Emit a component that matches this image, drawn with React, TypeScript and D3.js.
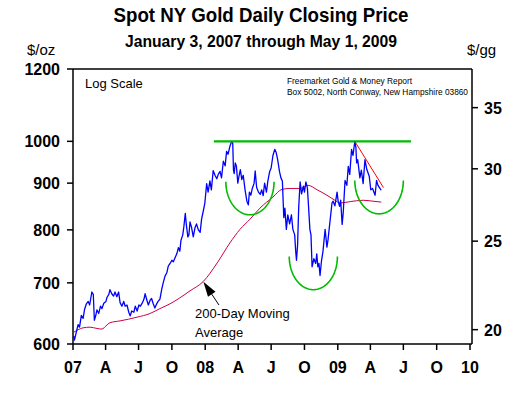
import React from "react";
import * as d3 from "d3";

// spot gold, NY close ($/oz)
const goldDates = [
  "2007-01-03","2007-01-05","2007-01-10","2007-01-15","2007-01-19","2007-01-24","2007-01-29","2007-02-02",
  "2007-02-07","2007-02-12","2007-02-16","2007-02-22","2007-02-26","2007-03-01","2007-03-05","2007-03-08",
  "2007-03-13","2007-03-18","2007-03-22","2007-03-27","2007-04-02","2007-04-05","2007-04-10","2007-04-13",
  "2007-04-18","2007-04-23","2007-04-27","2007-05-02","2007-05-07","2007-05-11","2007-05-16","2007-05-21",
  "2007-05-25","2007-05-30","2007-06-04","2007-06-08","2007-06-12","2007-06-18","2007-06-22","2007-06-27",
  "2007-07-02","2007-07-06","2007-07-11","2007-07-16","2007-07-19","2007-07-24","2007-07-28","2007-08-02",
  "2007-08-06","2007-08-10","2007-08-15","2007-08-20","2007-08-24","2007-08-29","2007-09-03","2007-09-07",
  "2007-09-12","2007-09-17","2007-09-21","2007-09-26","2007-10-01","2007-10-05","2007-10-10","2007-10-15",
  "2007-10-19","2007-10-23","2007-10-26","2007-10-31","2007-11-03","2007-11-07","2007-11-10","2007-11-14",
  "2007-11-17","2007-11-20","2007-11-24","2007-11-29","2007-12-04","2007-12-08","2007-12-13","2007-12-18",
  "2007-12-22","2007-12-27","2007-12-31",
  "2008-01-05","2008-01-09","2008-01-14","2008-01-18","2008-01-23","2008-01-28","2008-02-02","2008-02-06",
  "2008-02-11","2008-02-15","2008-02-20","2008-02-25","2008-02-29","2008-03-04","2008-03-09","2008-03-14",
  "2008-03-17","2008-03-19","2008-03-21","2008-03-24","2008-03-27","2008-03-31","2008-04-03","2008-04-07",
  "2008-04-11","2008-04-15","2008-04-20","2008-04-25","2008-04-29","2008-05-02","2008-05-06","2008-05-10",
  "2008-05-15","2008-05-18","2008-05-22","2008-05-27","2008-06-01","2008-06-05","2008-06-09","2008-06-13",
  "2008-06-18","2008-06-22","2008-06-27","2008-07-01","2008-07-06","2008-07-11","2008-07-15","2008-07-19",
  "2008-07-24","2008-07-28","2008-08-01","2008-08-05","2008-08-08","2008-08-12","2008-08-16","2008-08-21",
  "2008-08-26","2008-08-30","2008-09-04","2008-09-07","2008-09-09","2008-09-12","2008-09-15","2008-09-19",
  "2008-09-23","2008-09-28","2008-10-01","2008-10-05","2008-10-09","2008-10-12","2008-10-16","2008-10-19",
  "2008-10-22","2008-10-27","2008-11-01","2008-11-04","2008-11-07","2008-11-10","2008-11-13","2008-11-17",
  "2008-11-21","2008-11-27","2008-12-02","2008-12-05","2008-12-11","2008-12-16","2008-12-19","2008-12-24",
  "2008-12-30",
  "2009-01-02","2009-01-06","2009-01-09","2009-01-13","2009-01-16","2009-01-21","2009-01-26","2009-01-30",
  "2009-02-03","2009-02-08","2009-02-12","2009-02-17","2009-02-20","2009-02-22","2009-02-25","2009-03-03",
  "2009-03-07","2009-03-12","2009-03-17","2009-03-22","2009-03-29","2009-04-02","2009-04-07","2009-04-14",
  "2009-04-18","2009-04-22","2009-04-26","2009-05-01",
];
const goldClose = [
  612,606,618,630,626,645,640,655,
  664,668,662,684,680,637,645,654,
  648,660,656,665,668,675,680,688,
  681,677,684,676,684,666,660,668,
  660,662,650,644,652,650,660,652,
  662,660,665,672,681,670,662,670,
  673,665,657,664,668,672,689,700,
  712,718,730,735,741,738,746,754,
  765,758,779,790,806,834,810,786,
  790,816,806,786,805,812,800,795,
  822,840,856,
  899,880,905,885,929,918,910,920,
  927,912,951,940,975,968,987,1000,
  995,930,922,947,940,900,915,931,
  908,918,885,860,852,880,873,888,
  900,928,890,880,875,885,872,900,
  880,905,927,935,965,980,972,955,
  927,912,905,825,845,801,831,812,
  831,801,790,756,741,770,845,903,
  876,893,880,903,890,852,801,790,
  729,744,735,753,729,735,713,740,
  757,801,766,780,821,856,860,850,
  880,
  860,849,862,811,835,906,895,939,
  920,980,965,1000,985,947,955,912,
  930,899,955,932,915,885,888,873,
  906,895,890,884,
];

// 200-day moving average
const maDates = [
  "2007-01-03","2007-01-15","2007-01-29","2007-02-17","2007-03-08","2007-03-22","2007-04-02","2007-04-13",
  "2007-05-11","2007-06-27","2007-08-02","2007-08-29","2007-09-26","2007-10-23","2007-11-20","2007-12-26",
  "2008-02-03","2008-03-09","2008-04-06","2008-05-04","2008-05-31","2008-07-06","2008-07-31","2008-08-22",
  "2008-09-19","2008-10-11","2008-11-05","2008-12-02","2008-12-24","2009-01-07","2009-02-04","2009-03-12",
  "2009-04-08","2009-05-01",
];
const maValues = [
  618,622,625,626,624,623,628,633,
  636,642,648,656,664,674,686,702,
  736,774,801,822,845,869,886,888,
  888,895,885,873,862,856,859,862,
  860,858,
];

const leftTicks = [600, 700, 800, 900, 1000, 1200];
const rightTicks = [20, 25, 30, 35];
const quarterLabels = ["07","A","J","O","08","A","J","O","09","A","J","O","10"];

const cups = [
  { from: "2008-02-27", to: "2008-07-09", rim: 903, low: 831 },
  { from: "2008-08-20", to: "2008-12-31", rim: 748, low: 688 },
  { from: "2009-02-17", to: "2009-07-01", rim: 906, low: 833 },
];
const resistance = { from: "2008-01-25", to: "2009-07-22", price: 1000 };
const trend = { from: "2009-02-17", to: "2009-05-07", start: 1000, end: 890 };
const arrow = { tail: ["2008-02-08", 662], tip: ["2007-12-27", 702] };
const maLabel = { date: "2007-12-04", price: 641 };

const GRAMS_PER_OZ = 31.1035;
const W = 528, H = 395;
const left = 73, right = 472, top = 69, bottom = 344;
const font = "'Liberation Sans', Arial, sans-serif";

const parse = d3.timeParse("%Y-%m-%d");

export default function App() {
  const x = d3.scaleTime()
    .domain([new Date(2007, 0, 1), new Date(2010, 0, 1)])
    .range([left, 470]);
  const y = d3.scaleLog().domain([600, 1200]).range([bottom, top]);
  const yg = d3.scaleLog().domain([600 / GRAMS_PER_OZ, 1200 / GRAMS_PER_OZ]).range([bottom, top]);

  const gold = goldDates.map((d, i) => [parse(d), goldClose[i]]);
  const ma = maDates.map((d, i) => [parse(d), maValues[i]]);

  const line = d3.line().x(d => x(d[0])).y(d => y(d[1]));
  const smooth = d3.line().x(d => x(d[0])).y(d => y(d[1])).curve(d3.curveMonotoneX);

  const cupPath = (c) => {
    const x0 = x(parse(c.from)), x1 = x(parse(c.to));
    const cx = (x0 + x1) / 2, rx = (x1 - x0) / 2;
    const y0 = y(c.rim), y1 = y(c.low);
    const pts = d3.range(0, 61).map(i => {
      const t = (Math.PI * i) / 60;
      return [cx - rx * Math.cos(t), y0 + (y1 - y0) * Math.sin(t)];
    });
    return d3.line()(pts);
  };

  const qTicks = x.ticks(d3.timeMonth.every(3));

  const tipX = x(parse(arrow.tip[0])), tipY = y(arrow.tip[1]);
  const tailX = x(parse(arrow.tail[0])), tailY = y(arrow.tail[1]);
  const ang = Math.atan2(tailY - tipY, tailX - tipX);
  const hl = 15, hw = 4.5;
  const bx = tipX + hl * Math.cos(ang), by = tipY + hl * Math.sin(ang);
  const head = [
    [tipX, tipY],
    [bx + hw * Math.sin(ang), by - hw * Math.cos(ang)],
    [bx - hw * Math.sin(ang), by + hw * Math.cos(ang)],
  ];

  const lx = x(parse(maLabel.date)), ly = y(maLabel.price);

  return (
    <div style={{ position: "absolute", left: 0, top: 0 }}>
      <svg width={W} height={H} style={{ display: "block", background: "#fff" }} fontFamily={font}>
        <text x={261} y={22} textAnchor="middle" fontSize={20} fontWeight="bold"
          textLength={295} lengthAdjust="spacingAndGlyphs">Spot NY Gold Daily Closing Price</text>
        <text x={261} y={47} textAnchor="middle" fontSize={16} fontWeight="bold"
          textLength={272} lengthAdjust="spacingAndGlyphs">January 3, 2007 through May 1, 2009</text>
        <text x={27} y={55} fontSize={15}>$/oz</text>
        <text x={467} y={55} fontSize={15}>$/gg</text>

        {/* frame */}
        <g stroke="#000" strokeWidth={1.5} fill="none">
          <line x1={left} y1={top} x2={left} y2={bottom} />
          <line x1={right} y1={top} x2={right} y2={bottom} />
          <line x1={left} y1={top} x2={right} y2={top} />
          <line x1={left} y1={bottom} x2={right} y2={bottom} />
        </g>

        {leftTicks.map(t => (
          <g key={"l" + t}>
            <line x1={left - 6} x2={left} y1={y(t)} y2={y(t)} stroke="#000" strokeWidth={1.5} />
            <text x={60} y={y(t) + 6} textAnchor="end" fontSize={16} fontWeight="bold">{t}</text>
          </g>
        ))}
        {rightTicks.map(t => (
          <g key={"r" + t}>
            <line x1={right} x2={right + 6} y1={yg(t)} y2={yg(t)} stroke="#000" strokeWidth={1.5} />
            <text x={484} y={yg(t) + 6} fontSize={16} fontWeight="bold">{t}</text>
          </g>
        ))}
        {qTicks.map((d, i) => (
          <g key={"q" + i}>
            <line x1={x(d)} x2={x(d)} y1={bottom} y2={bottom + 6} stroke="#000" strokeWidth={1.5} />
            <text x={x(d)} y={373} textAnchor="middle" fontSize={16} fontWeight="bold">{quarterLabels[i]}</text>
          </g>
        ))}

        <text x={85} y={88} fontSize={13}>Log Scale</text>
        <text x={287} y={84} fontSize={9} textLength={125} lengthAdjust="spacingAndGlyphs">Freemarket Gold &amp; Money Report</text>
        <text x={287} y={95} fontSize={9} textLength={181} lengthAdjust="spacingAndGlyphs">Box 5002, North Conway, New Hampshire 03860</text>

        <path d={smooth(ma)} fill="none" stroke="#CC0044" strokeWidth={1} />
        <path d={line(gold)} fill="none" stroke="#0000FF" strokeWidth={1.3} strokeLinejoin="round" />

        <line x1={x(parse(resistance.from))} x2={x(parse(resistance.to))}
          y1={y(resistance.price)} y2={y(resistance.price)} stroke="#00BB00" strokeWidth={2.2} />
        {cups.map((c, i) => (
          <path key={"c" + i} d={cupPath(c)} fill="none" stroke="#00BB00" strokeWidth={1.6} />
        ))}
        <line x1={x(parse(trend.from))} y1={y(trend.start)} x2={x(parse(trend.to))} y2={y(trend.end)}
          stroke="#FF0000" strokeWidth={1} />

        <line x1={tailX} y1={tailY} x2={bx} y2={by} stroke="#000" strokeWidth={1} />
        <polygon points={head.map(p => p.join(",")).join(" ")} fill="#000" />
        <text x={lx} y={ly} fontSize={13}>200-Day Moving</text>
        <text x={lx} y={ly + 19} fontSize={13}>Average</text>
      </svg>
    </div>
  );
}
